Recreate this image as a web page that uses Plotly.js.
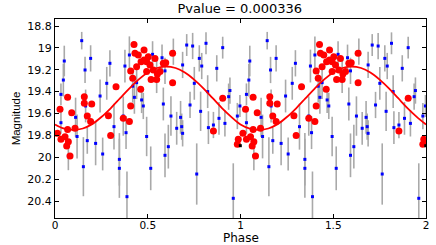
<!DOCTYPE html>
<html>
<head>
<meta charset="utf-8">
<script src="https://cdn.plot.ly/plotly-3.0.1.min.js"></script>
<style>html,body{margin:0;padding:0;background:#fff;}#chart{width:436px;height:245px;}</style>
</head>
<body>
<div id="chart"></div>
<script>
// Observations folded on phase 0..1 (drawn twice: 0..1 and 1..2)
var bluePhase = [0.032,0.032,0.045,0.050,0.072,0.111,0.119,0.144,0.153,0.162,
  0.165,0.174,0.192,0.219,0.243,0.257,0.279,0.296,0.318,0.347,
  0.347,0.368,0.377,0.383,0.388,0.401,0.419,0.428,0.440,0.467,
  0.476,0.494,0.516,0.526,0.548,0.577,0.584,0.593,0.593,0.611,
  0.625,0.638,0.656,0.677,0.683,0.688,0.688,0.710,0.728,0.742,
  0.751,0.764,0.778,0.785,0.791,0.814,0.823,0.827,0.854,0.872,
  0.884,0.904,0.916,0.936,0.943,0.961,0.983,0.997];
var blueMag = [19.425,19.684,19.294,19.120,19.988,19.635,19.810,18.934,20.086,19.202,
  19.531,19.848,19.096,19.873,19.440,19.970,19.324,19.141,19.720,20.019,
  20.101,19.623,19.166,19.775,20.360,19.065,19.350,19.452,19.318,19.476,
  19.531,19.810,20.101,19.059,19.263,19.090,19.513,19.210,19.982,19.903,
  19.623,19.035,19.735,19.635,19.720,19.781,19.156,18.974,19.522,18.983,
  19.324,20.153,19.096,19.580,19.166,18.958,19.400,19.729,19.705,19.187,
  19.644,18.998,19.690,19.446,19.390,20.375,19.623,19.531];
var blueErr = [0.10,0.10,0.15,0.14,0.13,0.18,0.20,0.08,0.27,0.12,
  0.15,0.12,0.12,0.20,0.15,0.15,0.15,0.12,0.21,0.24,
  0.27,0.18,0.15,0.15,0.23,0.17,0.15,0.15,0.15,0.12,
  0.12,0.18,0.20,0.12,0.15,0.12,0.15,0.12,0.20,0.20,
  0.18,0.12,0.15,0.15,0.12,0.12,0.12,0.10,0.12,0.12,
  0.15,0.28,0.12,0.18,0.12,0.10,0.15,0.15,0.12,0.12,
  0.15,0.10,0.12,0.12,0.12,0.32,0.12,0.10];

var redPhase = [0.013,0.027,0.032,0.054,0.063,0.072,0.068,0.090,0.068,0.081,
  0.108,0.158,0.158,0.174,0.198,0.192,0.288,0.300,0.329,0.368,
  0.401,0.408,0.408,0.419,0.426,0.431,0.449,0.462,0.440,0.480,
  0.480,0.494,0.494,0.503,0.512,0.530,0.539,0.518,0.548,0.552,
  0.566,0.584,0.597,0.634,0.634,0.464,0.854,0.904,0.988,0.983];
var redMag = [19.781,19.562,19.836,19.812,19.897,19.857,19.452,19.592,19.745,19.988,
  19.735,19.446,19.507,19.623,19.513,19.674,19.620,19.802,19.355,19.644,
  19.674,19.531,19.211,19.278,18.968,19.050,19.065,19.379,19.172,19.019,
  19.111,19.126,19.217,19.080,19.156,19.202,19.096,19.288,19.288,19.239,
  19.217,19.141,19.135,19.050,19.318,19.126,19.760,19.461,19.836,19.880];

var blackPhase = [0.999];
var blackMag = [19.894];

// Fitted model curve (phase 0..1)
var fitPhase = [0,0.05,0.10,0.15,0.20,0.25,0.30,0.35,0.40,0.45,0.50,
  0.55,0.60,0.65,0.70,0.75,0.80,0.85,0.90,0.95,1.00];
var fitMag = [19.70,19.738,19.75,19.737,19.697,19.632,19.552,19.462,19.372,19.29,19.225,
  19.184,19.17,19.184,19.225,19.29,19.37,19.46,19.55,19.63,19.70];

var xTicks = [0,0.5,1,1.5,2];
var yTicks = [18.8,19,19.2,19.4,19.6,19.8,20,20.2,20.4];
var titleText = 'Pvalue = 0.000336';
var xTitle = 'Phase';
var yTitle = 'Magnitude';

function twoCycles(a){ return a.concat(a.map(function(v){return v+1;})); }
function twice(a){ return a.concat(a); }

var fitX = fitPhase.concat(fitPhase.slice(1).map(function(v){return v+1;}));
var fitY = fitMag.concat(fitMag.slice(1));

var traces = [
  {x: twoCycles(bluePhase), y: twice(blueMag), type:'scatter', mode:'markers',
   marker:{symbol:'square', size:3, color:'#0000ff', line:{width:0}},
   error_y:{type:'data', array: twice(blueErr), visible:true, color:'#a9a9a9', thickness:1.6, width:0},
   hoverinfo:'skip'},
  {x: twoCycles(redPhase), y: twice(redMag), type:'scatter', mode:'markers',
   marker:{symbol:'circle', size:7, color:'#ff0000', line:{width:0}}, hoverinfo:'skip'},
  {x: twoCycles(blackPhase), y: twice(blackMag), type:'scatter', mode:'markers',
   marker:{symbol:'square', size:3, color:'#000000'}, hoverinfo:'skip'},
  {x: fitX, y: fitY, type:'scatter', mode:'lines', line:{color:'#ff0000', width:1.8, shape:'spline'}, hoverinfo:'skip'}
];

var axisCommon = {showline:true, linecolor:'#000', linewidth:1, mirror:'ticks', ticks:'inside',
  ticklen:4, tickcolor:'#000', showgrid:false, zeroline:false, automargin:false,
  tickfont:{family:'DejaVu Sans, Arial, sans-serif', size:11, color:'#000'}};

var layout = {
  width:436, height:245, margin:{l:55, r:10, t:19, b:27},
  paper_bgcolor:'#fff', plot_bgcolor:'#fff', showlegend:false,
  title:{text:titleText, font:{family:'DejaVu Sans, Arial, sans-serif', size:13, color:'#000'},
    x:0.55, xanchor:'center', y:0.985, yanchor:'top'},
  xaxis: Object.assign({}, axisCommon, {range:[0,2], tickvals:xTicks, ticktext:xTicks.map(String),
    ticklabelstandoff:-3,
    tickfont:{family:'DejaVu Sans, Arial, sans-serif', size:10.5, color:'#000'}}),
  yaxis: Object.assign({}, axisCommon, {range:[20.555,18.736], tickvals:yTicks, ticktext:yTicks.map(String),
    title:{text:yTitle, font:{family:'Liberation Sans, Arial, sans-serif', size:11.5, color:'#000'}, standoff:4}}),
  annotations:[{text:xTitle, xref:'paper', yref:'paper', x:0.5, y:-0.14, xanchor:'center', yanchor:'bottom',
    borderpad:0, showarrow:false, font:{family:'DejaVu Sans, Arial, sans-serif', size:12, color:'#000'}}]
};

Plotly.newPlot('chart', traces, layout, {staticPlot:true, displayModeBar:false});
</script>
</body>
</html>
